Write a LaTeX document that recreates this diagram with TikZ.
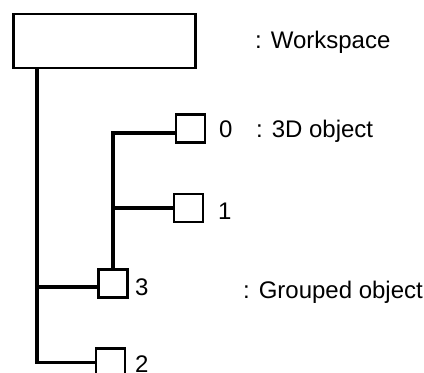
\documentclass[tikz,border=0pt]{standalone}
\usepackage{fontspec}
\setmainfont{Liberation Sans}
\usepackage{tikz}
\usetikzlibrary{positioning}
\tikzset{
  objbox/.style={draw, line width=2.6pt, minimum width=29pt, minimum height=28pt,
    inner sep=0pt, outer sep=0pt},
  wsbox/.style={objbox, minimum width=182pt, minimum height=54pt},
  lbl/.style={font=\fontsize{24}{28}\selectfont, inner sep=0pt, anchor=base west},
  tree/.style={line width=3.2pt},
}
\begin{document}
\begin{tikzpicture}[x=1pt, y=-1pt]
  \useasboundingbox (0,0) rectangle (424,373);
  % nodes
  \node[wsbox] (ws) at (104.5,41) {};
  \node[objbox] (o0) at (190.5,128.5) {};
  \node[objbox] (o1) at (188.5,208) {};
  \node[objbox] (g3) at (113,283.5) {};
  \node[objbox] (o2) at (110.5,362.5) {};
  \coordinate (trunk) at (37,68);
  % tree
  \draw[tree] (trunk) |- ([yshift=-3.5pt]g3.west);
  \draw[tree] (trunk) |- (o2.west);
  \draw[tree] (g3.north) |- ([yshift=-4.5pt]o0.west);
  \draw[tree] (g3.north) |- (o1.west);
  % numbers
  \node[lbl] (n0) at (219,137) {0};
  \node[lbl] (n1) at (218,219) {1};
  \node[lbl] (n3) at (135,295) {3};
  \node[lbl] (n2) at (135,372.5) {2};
  % legend
  \node[lbl] (lws) at (255,48) {: Workspace};
  \node[lbl] (l3d) at (256,137) {: 3D object};
  \node[lbl] (lgr) at (243,298) {: Grouped object};
\end{tikzpicture}
\end{document}
